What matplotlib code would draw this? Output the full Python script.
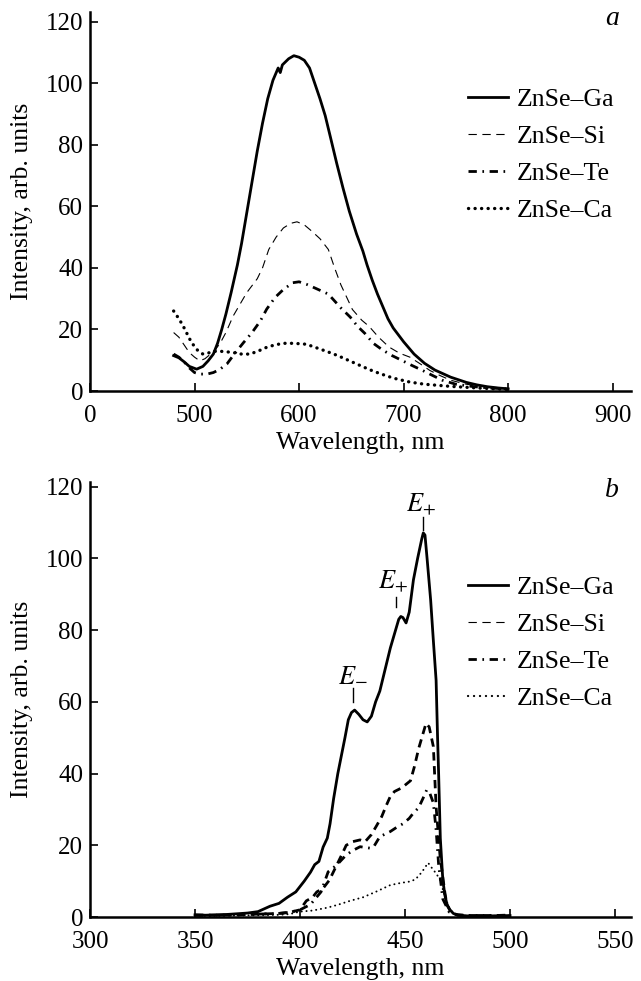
import matplotlib
matplotlib.use("Agg")
import matplotlib.pyplot as plt
from matplotlib.lines import Line2D

plt.rcParams['font.family'] = ['Liberation Serif', 'DejaVu Serif']
plt.rcParams['mathtext.fontset'] = 'stix'
plt.rcParams['font.size'] = 18
plt.rcParams['lines.scale_dashes'] = False

# ---------------- Panel a data ----------------
labels = ["ZnSe–Ga", "ZnSe–Si", "ZnSe–Te", "ZnSe–Ca"]

a_ga_wl = [480, 485, 490, 495, 502, 508, 513, 518, 522, 526, 530, 535, 541, 545, 550, 555, 560,
           565, 570, 575, 580, 582, 584, 587, 590, 595, 600, 605, 610, 615, 620, 625, 630, 636, 642,
           648, 655, 661, 665, 670, 675, 680, 685, 690, 700, 710, 720, 730, 745, 760, 770, 780, 790, 800]
a_ga = [11.5, 10.8, 9.5, 8.0, 7.1, 8.0, 9.8, 12, 15.5, 20, 25, 32, 41, 48, 58, 68, 78,
        87, 95, 101, 105, 103.5, 106, 107, 108, 109, 108.5, 107.5, 105, 100, 95, 89.5, 82.5, 74, 66,
        58.5, 51, 45.5, 41, 36, 31.5, 27.5, 23.5, 20.5, 16, 12, 9, 6.8, 4.5, 2.8, 2, 1.4, 1.0, 0.7]

a_si_wl = [480, 485, 490, 495, 500, 505, 510, 517, 524, 530, 537, 544, 550, 560, 565, 571, 578,
           585, 592, 598, 605, 612, 620, 628, 634, 640, 651, 660, 667, 676, 686, 696, 706, 716,
           725, 735, 745, 760, 775, 790, 800]
a_si = [19, 17.5, 15, 12.5, 11, 9.8, 10.5, 12.5, 15.2, 19, 24.4, 28.5, 32, 36.5, 40, 46, 50,
        53, 54.5, 55, 54, 52, 49.5, 46, 40, 34.5, 26.5, 23, 21, 17.5, 14.3, 12.3, 11, 8.8,
        6.7, 5, 3.5, 2.2, 1.5, 1.0, 0.8]

a_te_wl = [480, 485, 490, 495, 500, 505, 512, 518, 524, 531, 538, 547, 555, 563, 569, 577, 585,
           594, 600, 607, 615, 628, 640, 649, 656, 663, 671, 680, 689, 698, 708, 718, 728, 737,
           750, 765, 780, 800]
a_te = [12, 11, 9.5, 7.5, 6, 5.5, 5.5, 6, 7, 8.8, 12, 15.8, 19, 22.8, 26.6, 30.4, 33,
        35.2, 35.5, 34.7, 33.5, 31.5, 27, 24, 21, 18.7, 15.5, 13.3, 11.5, 10, 8.3, 6.7, 5, 3.5,
        2.2, 1.5, 1.0, 0.7]

a_ca_wl = [480, 485, 489, 493, 497, 503, 508, 515, 521, 529, 537, 545, 553, 561, 569, 577, 585,
           595, 607, 617, 627, 637, 647, 657, 667, 677, 690, 706, 720, 745, 770, 800]
a_ca = [26, 23.5, 21.2, 18.5, 15.8, 13.2, 12, 12.5, 13, 12.8, 12.5, 12, 12, 13, 14.2, 15, 15.5,
        15.5, 15.2, 14, 12.8, 11.5, 10, 8.5, 7, 5.7, 4.2, 2.9, 2.2, 1.5, 1.0, 0.5]

a_xticks = [400, 500, 600, 700, 800, 900]
a_xticklabels = ["0", "500", "600", "700", "800", "900"]

# ---------------- Panel b data ----------------
b_ga_wl = [350, 355, 360, 365, 370, 375, 380, 385.7, 390, 394, 398, 402, 405, 407, 409, 411, 413,
           414.3, 416, 418, 421.4, 423, 424.5, 426, 428, 430, 432, 434, 436, 438, 440.5, 443, 445,
           447, 448, 449, 450.5, 452, 454, 456, 458, 458.7, 459.5, 460.5, 462.2, 463.5, 464.8,
           465.5, 466, 466.8, 468, 469, 470, 471.4, 473, 475, 480, 490, 500]
b_ga = [0.6, 0.5, 0.6, 0.7, 0.9, 1.1, 1.5, 3.0, 3.8, 5.5, 7, 10, 12.5, 14.6, 15.5, 19.5, 22,
        26, 33, 40, 50, 55, 57, 57.7, 56.5, 55, 54.4, 56, 60, 63, 69, 75, 79,
        83, 83.8, 83.5, 82, 85, 94, 100, 105.5, 107.1, 106.5, 100, 88.4, 77, 66,
        50, 40, 22, 10.3, 6, 3.5, 2, 1, 0.5, 0.3, 0.3, 0.4]

b_si_wl = [350, 360, 370, 380, 390, 395, 400, 403, 406, 408, 411, 414, 417.5, 420, 422, 425,
           428.6, 431, 434, 436.5, 438.9, 441, 442.9, 445, 448.4, 450.5, 452.6, 454.5, 456.5,
           458.5, 460, 461.5, 463.5, 464.8, 466.7, 469, 470, 472, 475, 480, 490, 500]
b_si = [0.5, 0.5, 0.6, 0.8, 1.0, 1.3, 2, 4.5, 5.5, 7, 8, 10.3, 14.5, 17.5, 20, 21,
        21.5, 21, 23, 25.5, 28, 31, 33.5, 35, 36, 37, 38, 42, 47,
        51, 54, 53, 47.5, 30.7, 16.8, 6.7, 3.3, 1.2, 0.6, 0.4, 0.4, 0.5]

b_te_wl = [350, 360, 370, 380, 390, 395, 400, 405, 410, 413.4, 417.5, 422, 425, 428.6, 431,
           433.3, 435, 438, 442.9, 446, 449, 452, 454, 456.5, 458.5, 460.3, 461.5, 463.5, 464.8,
           466, 468, 471, 475, 480, 490, 500]
b_te = [0.5, 0.5, 0.6, 0.8, 1.0, 1.3, 2, 3.5, 7, 12.6, 14.5, 17.3, 18.5, 19.6, 19.4,
        19.2, 19.5, 22.4, 23.8, 25, 26, 27.5, 29, 30.5, 33, 35.4, 35, 31.8, 24.3,
        14.6, 5, 1.4, 0.6, 0.4, 0.4, 0.5]

b_ca_wl = [350, 360, 370, 380, 390, 395, 400, 406, 413, 418, 423.8, 430, 436, 443, 448, 452.4,
           455, 458, 461, 463, 465, 466.7, 469, 471, 473, 476, 480, 490, 500]
b_ca = [0.3, 0.3, 0.4, 0.5, 0.6, 0.8, 1.5, 1.8, 2.6, 3.4, 4.5, 5.5, 7, 8.9, 9.5, 9.9,
        10.5, 12.5, 15.1, 13.5, 12, 10.3, 5.7, 2.5, 1, 0.4, 0.3, 0.3, 0.4]

b_xticks = [300, 350, 400, 450, 500, 550]
yticks = [0, 20, 40, 60, 80, 100, 120]

# ---------------- Figure ----------------
fig = plt.figure(figsize=(6.41, 9.81), dpi=100)
axa = fig.add_axes([90/641, 1-391/981, 541/641, 379/981])
axb = fig.add_axes([90/641, 1-917/981, 541/641, 435/981])

def style_axes(ax):
    for s in ['top', 'right']:
        ax.spines[s].set_visible(False)
    for s in ['left', 'bottom']:
        ax.spines[s].set_linewidth(1.8)
    ax.tick_params(direction='in', length=6, width=1.2, labelsize=18)
    ax.tick_params(axis='x', pad=10)
    ax.tick_params(axis='y', pad=5)
    ax.set_yticks(yticks)
    ax.set_xlabel("Wavelength, nm", fontsize=18.5, labelpad=4)
    ax.set_ylabel("Intensity, arb. units", fontsize=18.5, labelpad=9)

k = 'black'
# Panel a
axa.plot(a_ga_wl, a_ga, color=k, lw=2.0, label=labels[0])
axa.plot(a_si_wl, a_si, color=k, lw=0.8, dashes=(6, 4), label=labels[1])
axa.plot(a_te_wl, a_te, color=k, lw=2.0, dashes=(6, 4, 1.2, 4), label=labels[2])
axa.plot(a_ca_wl, a_ca, color=k, lw=2.4, dashes=(0.1, 4.6), dash_capstyle='round', label=labels[3])
axa.set_xlim(400, 917.5)
axa.set_ylim(0, 123.2)
axa.set_xticks(a_xticks)
axa.set_xticklabels(a_xticklabels)
style_axes(axa)
axa.legend(loc='upper left', bbox_to_anchor=(468/641, 1-88/981), bbox_transform=fig.transFigure,
           frameon=False, handlelength=1.55, handletextpad=0.35, labelspacing=0.55,
           borderpad=0, borderaxespad=0, fontsize=18.5)
axa.text(0.965, 0.984, "a", transform=axa.transAxes, fontsize=20, style='italic',
         ha='center', va='center')

# Panel b
axb.plot(b_ga_wl, b_ga, color=k, lw=2.0)
axb.plot(b_si_wl, b_si, color=k, lw=2.0, dashes=(6, 4))
axb.plot(b_te_wl, b_te, color=k, lw=2.0, dashes=(6, 4, 1.2, 4))
axb.plot(b_ca_wl, b_ca, color=k, lw=1.4, dashes=(0.1, 3.4), dash_capstyle='round')
axb.set_xlim(300, 557.6)
axb.set_ylim(0, 121.3)
axb.set_xticks(b_xticks)
style_axes(axb)
handles_b = [Line2D([], [], color=k, lw=2.0),
             Line2D([], [], color=k, lw=0.8, dashes=(6, 4)),
             Line2D([], [], color=k, lw=2.0, dashes=(6, 4, 1.2, 4)),
             Line2D([], [], color=k, lw=1.6, dashes=(0.1, 4.2), dash_capstyle='round')]
axb.legend(handles_b, labels, loc='upper left', bbox_to_anchor=(468/641, 1-576/981),
           bbox_transform=fig.transFigure, frameon=False, handlelength=1.55,
           handletextpad=0.35, labelspacing=0.55, borderpad=0, borderaxespad=0, fontsize=18.5)
axb.text(0.965, 0.98, "b", transform=axb.transAxes, fontsize=20, style='italic',
         ha='center', va='center')

# Peak annotations
peak_marks = [(458.6, 108.0, 111.6, 457.6, 115.0, r"$E_{+}$"),
              (445.6, 86.5, 89.3, 444.3, 93.5, r"$E_{+}$"),
              (425.2, 60.0, 63.9, 425.0, 67.5, r"$E_{-}$")]
for xm, y0, y1, xt, yt, txt in peak_marks:
    axb.plot([xm, xm], [y0, y1], color=k, lw=1.0)
    axb.text(xt, yt, txt, fontsize=19, ha='center', va='center')

fig.savefig("out.png", dpi=100)
